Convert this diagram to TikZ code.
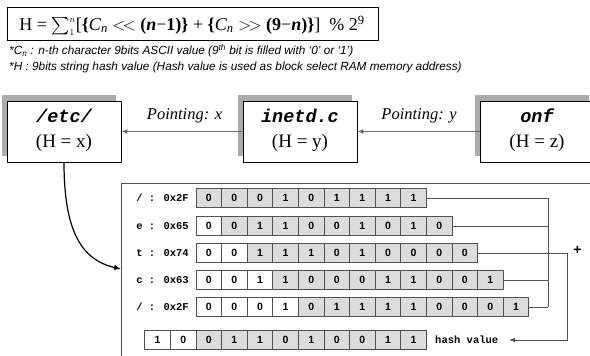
\documentclass[tikz,border=0pt]{standalone}
\usepackage{amsmath}
\usepackage{fontspec}
\setmainfont{Liberation Serif}
\newfontfamily\notefont{Liberation Sans}
\newfontfamily\codefont{Liberation Mono}
\usetikzlibrary{arrows.meta,shadows}

\definecolor{cellgray}{HTML}{DCDCDC}
\definecolor{linegray}{HTML}{505050}
\definecolor{ptrgray}{HTML}{6A6A6A}
\definecolor{shadowgray}{HTML}{ABABAB}

\def\cellw{25.6}

% One row of bit cells: name, y, left x, number of white cells, bits
\newcommand\bitrow[5]{%
  \foreach \b [count=\i from 0] in {#5}{%
    \ifnum\i<#4\relax
      \node[bitcell,fill=white] (#1-\i) at ({#3+(\i+0.5)*\cellw},#2) {\b};
    \else
      \node[bitcell,fill=cellgray] (#1-\i) at ({#3+(\i+0.5)*\cellw},#2) {\b};
    \fi
  }%
}

\tikzset{
  filebox/.style={draw=black, line width=0.8pt, fill=white, minimum width=114pt,
    minimum height=61pt, inner sep=0pt,
    drop shadow={shadow xshift=-5pt, shadow yshift=6pt, fill=shadowgray, opacity=1}},
  fname/.style={inner sep=0pt, font=\codefont\bfseries\itshape\fontsize{18.5}{20}\selectfont},
  hval/.style={inner sep=0pt, font=\fontsize{19}{21}\selectfont},
  ptrlabel/.style={inner sep=0pt, font=\itshape\fontsize{16.5}{18}\selectfont},
  ptr/.style={draw=ptrgray, line width=1.2pt, -{Latex[length=6pt,width=5pt,fill=black]}},
  bitcell/.style={draw=linegray, line width=0.8pt, minimum width=\cellw pt,
    minimum height=19.5pt, inner sep=0pt,
    font=\notefont\bfseries\fontsize{10.5}{11}\selectfont},
  rowlabel/.style={anchor=east, inner sep=0pt,
    font=\codefont\bfseries\fontsize{10.5}{11}\selectfont},
  bus/.style={draw=linegray, line width=0.8pt},
  note/.style={anchor=west, inner sep=0pt,
    font=\notefont\itshape\fontsize{11.8}{13}\selectfont}
}

\begin{document}
\begin{tikzpicture}[x=1pt,y=-1pt]
\useasboundingbox (0,0) rectangle (590,356);
\clip (0,0) rectangle (590,356);

% hash formula and notes
\node[draw=black, line width=0.9pt, minimum width=371pt, minimum height=33pt,
  inner sep=0pt] (formula) at (192.5,23.5) {};
\node[inner sep=0pt, font=\fontsize{18}{20}\selectfont] (ftext) at (192,25.5)
  {H = $\sum_{\scriptscriptstyle 1}^{\scriptscriptstyle n}$[\textbf{\{}\textit{C}\textsubscript{\textit{n}} $<\!<$
   \textbf{(\textit{n}}−\textbf{1)\}} + \textbf{\{}\textit{C}\textsubscript{\textit{n}}
   $>\!>$ \textbf{(9}−\textbf{\textit{n})\}}]~~\% 2\textsuperscript{9}};
\node[note] (note1) at (9,51)
  {*C\textsubscript{n} : n-th character 9bits ASCII value (9\textsuperscript{th} bit is filled with ‘0’ or ‘1’)};
\node[note] (note2) at (9,67)
  {*H : 9bits string hash value (Hash value is used as block select RAM memory address)};

% directory entries
\node[filebox] (etc) at (64,131.5) {};
\node[filebox] (inetd) at (300,131.5) {};
\node[filebox] (onf) at (537,131.5) {};
\node[fname] (etcname) at (64,116) {/etc/};
\node[hval] (etchash) at (64,143) {(H = x)};
\node[fname] (inetdname) at (300,116) {inetd.c};
\node[hval] (inetdhash) at (300,143) {(H = y)};
\node[fname] (onfname) at (537,116) {onf};
\node[hval] (onfhash) at (537,143) {(H = z)};

\draw[ptr] (inetd.west) -- (etc.east);
\draw[ptr] (onf.west) -- (inetd.east);
\node[ptrlabel] (px) at (184.5,116) {Pointing: x};
\node[ptrlabel] (py) at (419,116) {Pointing: y};

% table frame
\coordinate (frameTR) at (590,183);
\coordinate (frameTL) at (121,183);
\coordinate (frameBL) at (121,360);
\draw[draw=linegray, line width=0.9pt] (frameTR) -- (frameTL) -- (frameBL);

\coordinate (tablein) at (121,269);
\draw[line width=1.2pt, -{Latex[length=7pt,width=5.5pt]}]
  (etc.south) .. controls (64,232) and (82,260) .. (tablein);

% shifted character codes
\node[rowlabel] (l1) at (189,198) {/ : 0x2F};
\node[rowlabel] (l2) at (189,226) {e : 0x65};
\node[rowlabel] (l3) at (189,253) {t : 0x74};
\node[rowlabel] (l4) at (189,280) {c : 0x63};
\node[rowlabel] (l5) at (189,307) {/ : 0x2F};

\bitrow{r1}{198}{196}{0}{0,0,0,1,0,1,1,1,1}
\bitrow{r2}{226}{196}{1}{0,0,1,1,0,0,1,0,1,0}
\bitrow{r3}{253}{196}{2}{0,0,1,1,1,0,1,0,0,0,0}
\bitrow{r4}{280}{196}{3}{0,0,1,1,0,0,0,1,1,0,0,1}
\bitrow{r5}{307}{196}{4}{0,0,0,1,0,1,1,1,1,0,0,0,1}
\bitrow{h}{340}{144.8}{2}{1,0,0,1,1,0,1,0,0,1,1}

% summing bus
\coordinate (b1) at (548,198);
\coordinate (b2) at (548,226);
\coordinate (b4) at (548,280);
\coordinate (b5) at (548,307);
\coordinate (sumR) at (567,253);
\coordinate (sumB) at (567,340);
\coordinate (hashin) at (509,340);
\draw[bus] (r1-8.east) -- (b1);
\draw[bus] (r2-9.east) -- (b2);
\draw[bus] (r4-11.east) -- (b4);
\draw[bus] (r5-12.east) -- (b5);
\draw[bus] (b1) -- (b5);
\draw[bus, -{Latex[length=6pt,width=4.5pt]}] (r3-10.east) -- (sumR) -- (sumB) -- (hashin);
\node[inner sep=0pt, font=\notefont\bfseries\fontsize{14}{14}\selectfont] (plus) at (577.5,250) {+};
\node[anchor=west, inner sep=0pt, font=\codefont\bfseries\fontsize{10.5}{11}\selectfont] (hashlbl) at (435,340) {hash value};
\end{tikzpicture}
\end{document}
